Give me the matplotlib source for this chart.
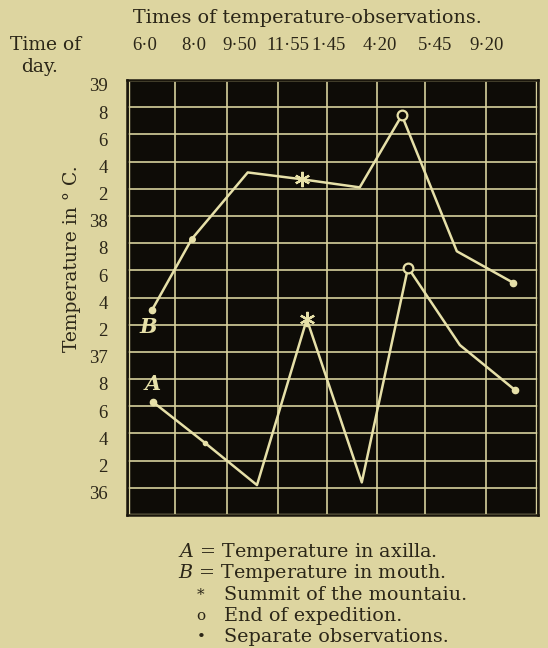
import matplotlib
matplotlib.use("Agg")
import matplotlib.pyplot as plt
from matplotlib.transforms import offset_copy

# ---------------- data ----------------
time_labels = ["6·0", "8·0", "9·50", "11·55", "1·45", "4·20", "5·45", "9·20"]
# horizontal position of each observation (column units across the chart)
x_mouth = [0.49, 1.26, 2.35, 3.40, 4.53, 5.35, 6.42, 7.51]
x_axilla = [0.51, 1.52, 2.53, 3.50, 4.57, 5.47, 6.48, 7.55]
temp_mouth = [37.31, 37.83, 38.32, 38.27, 38.21, 38.74, 37.74, 37.51]    # B
temp_axilla = [36.63, 36.33, 36.02, 37.24, 36.04, 37.62, 37.05, 36.72]  # A
summit_index = 3
end_index = 5
y_ticks = [39.0, 38.8, 38.6, 38.4, 38.2, 38.0, 37.8, 37.6, 37.4, 37.2,
           37.0, 36.8, 36.6, 36.4, 36.2, 36.0]
y_tick_labels = ["39", "8", "6", "4", "2", "38", "8", "6", "4", "2",
                 "37", "8", "6", "4", "2", "36"]
legend_lines = [("$A$ = Temperature in axilla.", None),
                ("$B$ = Temperature in mouth.", None),
                ("Summit of the mountaiu.", "*"),
                ("End of expedition.", "o"),
                ("Separate observations.", "•")]

# ---------------- style ----------------
paper = "#DDD5A0"
ink = "#2B2618"
chalk = "#E6E0A8"
grid_c = "#D6D09C"
board = "#0E0C07"
plt.rcParams["font.family"] = ["DejaVu Serif"]
plt.rcParams["mathtext.fontset"] = "dejavuserif"
num_font = ["Liberation Serif", "DejaVu Serif"]

W, H = 548, 648
fig = plt.figure(figsize=(W / 100, H / 100), dpi=100, facecolor=paper)
ax = fig.add_axes([127 / W, 1 - 515 / H, 411 / W, 435 / H])
ax.set_facecolor(board)
ax.set_xlim(0, 8)
ax.set_ylim(35.8, 39.0)

# grid
v_grid = [0.93, 1.95, 2.94, 3.89, 4.86, 5.80, 6.98]
for xv in v_grid:
    ax.axvline(xv, color=grid_c, lw=1.2, zorder=1)
for yv in y_ticks:
    ax.axhline(yv, color=grid_c, lw=1.2, zorder=1)
# pale inner border
ax.axvline(0.03, color=grid_c, lw=1.0, zorder=1)
ax.axvline(7.97, color=grid_c, lw=1.0, zorder=1)
ax.axhline(35.81, color=grid_c, lw=1.0, zorder=1)
ax.axhline(38.99, color=grid_c, lw=1.2, zorder=1)

for s in ax.spines.values():
    s.set_color("#1a160c")
    s.set_linewidth(1.8)

# data lines
ax.plot(x_mouth, temp_mouth, color=chalk, lw=1.8, zorder=3,
        solid_joinstyle="round", solid_capstyle="round")
ax.plot(x_axilla, temp_axilla, color=chalk, lw=1.8, zorder=3,
        solid_joinstyle="round", solid_capstyle="round")

# markers
for xs, ys in ((x_mouth, temp_mouth), (x_axilla, temp_axilla)):
    ax.plot([xs[0], xs[-1]], [ys[0], ys[-1]], "o", color=chalk, ms=4.5, zorder=4)
    ax.plot(xs[summit_index], ys[summit_index], marker=(6, 2, 0), color=chalk,
            ms=11, mew=1.6, zorder=5)
    ax.plot(xs[end_index], ys[end_index], "o", mfc=board, mec=chalk,
            ms=7, mew=1.6, zorder=5)
ax.plot(x_mouth[1], temp_mouth[1], "o", color=chalk, ms=4, zorder=4)
ax.plot(x_axilla[1], temp_axilla[1], "o", color=chalk, ms=3, zorder=4)

ax.text(0.41, 37.18, "B", color=chalk, fontsize=15, style="italic",
        fontweight="bold", ha="center", va="center", zorder=6)
ax.text(0.50, 36.76, "A", color=chalk, fontsize=15, style="italic",
        fontweight="bold", ha="center", va="center", zorder=6)

# y ticks
ax.set_xticks([])
ax.set_yticks(y_ticks)
ax.set_yticklabels(y_tick_labels, fontsize=13.5, color=ink, family=num_font)
ax.tick_params(axis="y", length=0, pad=14)
for lab in ax.get_yticklabels():
    lab.set_transform(offset_copy(lab.get_transform(), fig=fig, x=0, y=-3.5, units="points"))

# top texts
fig.text(307 / W, 1 - 18 / H, "Times of temperature-observations.", ha="center",
         va="center", fontsize=13.8, color=ink)
time_x = [145, 194, 240, 288, 329, 380, 435, 487]
for tx, lab in zip(time_x, time_labels):
    fig.text(tx / W, 1 - 45 / H, lab, ha="center", va="center", fontsize=13.5,
             color=ink, family=num_font)
fig.text(46 / W, 1 - 45 / H, "Time of", ha="center", va="center", fontsize=13.5, color=ink)
fig.text(40 / W, 1 - 67 / H, "day.", ha="center", va="center", fontsize=13.5, color=ink)
fig.text(72 / W, 1 - 259 / H, "Temperature in ° C.", rotation=90, ha="center",
         va="center", fontsize=13.5, color=ink)

# legend text
leg_y = [552, 573, 595, 616, 637]
for (txt, sym), yy in zip(legend_lines, leg_y):
    if sym is None:
        fig.text(178 / W, 1 - yy / H, txt, ha="left", va="center", fontsize=13.8, color=ink)
    else:
        fig.text(201 / W, 1 - yy / H, sym, ha="center", va="center", fontsize=11, color=ink)
        fig.text(224 / W, 1 - yy / H, txt, ha="left", va="center", fontsize=13.8, color=ink)

fig.savefig("out.png", dpi=100, facecolor=paper)
